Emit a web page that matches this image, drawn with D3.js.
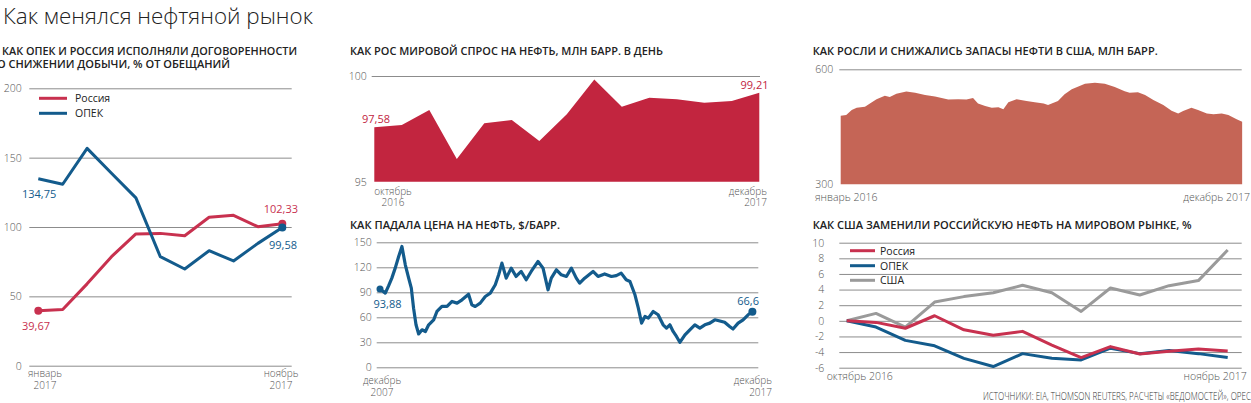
<!DOCTYPE html>
<html><head><meta charset="utf-8">
<script src="https://cdn.jsdelivr.net/npm/d3@7"></script>
<style>
body{margin:0;background:#fff;}
svg{display:block;font-family:"Open Sans",sans-serif;}
</style></head><body>
<svg id="c" width="1251" height="403"></svg>
<script>
// ---------- DATA ----------
const complianceMonths = ["2017-01","2017-02","2017-03","2017-04","2017-05","2017-06","2017-07","2017-08","2017-09","2017-10","2017-11"];
const complianceRussia = [39.67,40.5,59,78.6,95,95.4,93.7,107,108.4,100.2,102.33];
const complianceOpec   = [134.75,130.8,156.7,138.7,121,78.6,69.7,82.9,75.5,88.2,99.58];
const complianceTicks  = [0,50,100,150,200];

const demandMonths = ["2016-10","2016-11","2016-12","2017-01","2017-02","2017-03","2017-04","2017-05","2017-06","2017-07","2017-08","2017-09","2017-10","2017-11","2017-12"];
const demandValues = [97.58,97.68,98.39,96.07,97.76,97.92,96.92,98.19,99.84,98.55,98.97,98.9,98.74,98.82,99.21];
const demandTicks  = [95,100];

const priceDates = ["2007-12-01","2008-01-22","2008-02-24","2008-03-26","2008-04-28","2008-06-01","2008-07-03","2008-08-05","2008-09-07","2008-10-03","2008-10-25","2008-11-18","2008-12-14","2009-01-16","2009-02-18","2009-03-22","2009-05-10","2009-06-11","2009-07-30","2009-09-18","2009-11-06","2009-12-25","2010-02-12","2010-04-17","2010-05-19","2010-06-21","2010-08-09","2010-09-28","2010-11-16","2011-01-04","2011-02-06","2011-03-10","2011-04-21","2011-06-09","2011-07-27","2011-09-15","2011-11-03","2011-12-22","2012-02-27","2012-04-16","2012-06-04","2012-07-06","2012-08-25","2012-10-12","2012-12-01","2013-01-19","2013-03-08","2013-04-10","2013-05-29","2013-08-19","2013-10-07","2013-12-11","2014-02-15","2014-04-04","2014-05-22","2014-07-10","2014-08-16","2014-10-04","2014-11-06","2014-12-08","2015-01-10","2015-02-12","2015-04-01","2015-05-19","2015-07-07","2015-08-09","2015-09-11","2015-10-13","2015-11-15","2015-12-18","2016-02-06","2016-03-25","2016-05-13","2016-07-01","2016-08-19","2016-10-07","2016-11-25","2017-01-13","2017-03-01","2017-04-19","2017-05-22","2017-07-11","2017-08-29","2017-10-17","2017-11-28"];
const priceValues = [93.88,89,98,107,119,133,145,123,107,95,71,51,40,45,43,51,57,67,73,73,79,77,81,87.6,75,73,77,85,89,99,111,125,107,119,109,115,105,115,127,119,93,107,117,111,109,119,107,101,107,115,109,112,109,110,113,105,103,87,71,53,61,59,67,63,51,47,51,43,37,30,39,45,51,47,51,53,57,55.6,54,49,46,53,57,63,66.6];
const priceTicks = [0,30,60,90,120,150];

const stockDates = ["2016-01-01","2016-01-11","2016-01-21","2016-01-30","2016-02-14","2016-02-23","2016-03-06","2016-03-21","2016-03-30","2016-04-11","2016-04-29","2016-05-15","2016-06-02","2016-06-20","2016-07-14","2016-08-01","2016-08-16","2016-08-28","2016-09-06","2016-09-19","2016-10-01","2016-10-13","2016-10-22","2016-10-31","2016-11-15","2016-12-03","2016-12-18","2017-01-03","2017-01-11","2017-01-29","2017-02-10","2017-02-23","2017-03-07","2017-03-19","2017-04-06","2017-04-24","2017-05-12","2017-05-30","2017-06-08","2017-06-23","2017-07-06","2017-07-21","2017-08-08","2017-08-23","2017-09-04","2017-09-13","2017-09-28","2017-10-10","2017-10-26","2017-11-07","2017-11-22","2017-12-04","2017-12-19","2017-12-29"];
const stockValues = [479,481,494,500,502,511,522,531,528,536,542,539,533,529,521,522,521,525,511,504,500,501,496,514,522,517,514,511,507,517,535,548,555,562,565,562,554,543,539,540,533,520,507,492,485,491,500,494,485,483,485,481,470,463];
const stockTicks = [300,600];

const shareMonths = ["2016-10","2016-11","2016-12","2017-01","2017-02","2017-03","2017-04","2017-05","2017-06","2017-07","2017-08","2017-09","2017-10","2017-11"];
const shareRussia = [0,-0.2,-0.95,0.65,-1.15,-1.85,-1.35,-3.1,-4.7,-3.3,-4.25,-3.9,-3.6,-3.85];
const shareOpec   = [0,-0.8,-2.5,-3.2,-4.8,-5.85,-4.2,-4.8,-5.0,-3.5,-4.2,-3.8,-4.2,-4.7];
const shareUsa    = [0,0.95,-0.8,2.4,3.1,3.6,4.55,3.6,1.2,4.2,3.3,4.5,5.15,9.06];
const shareTicks  = [-6,-4,-2,0,2,4,6,8,10];

// ---------- STYLE ----------
const FONT = '"Open Sans", sans-serif';
const RED = "#c8314f", BLUE = "#135b8c", GRAY = "#9a9a9a";
const DEMAND = "#c2253f", STOCK = "#c56556";
const svg = d3.select("#c");
const parse = d3.timeParse("%Y-%m-%d");

function label(x, y, str, o = {}) {
  const t = svg.append("text").attr("x", x).attr("y", y).text(str)
    .attr("font-family", FONT)
    .attr("font-size", o.size || 11).attr("fill", o.fill || "#222")
    .attr("font-weight", o.weight || 400).attr("text-anchor", o.anchor || "start");
  if (o.len) t.attr("textLength", o.len).attr("lengthAdjust", "spacingAndGlyphs");
  return t;
}
function yGrid(scale, ticks, x0, x1, pad, hide) {
  const g = svg.append("g").attr("transform", `translate(${x0},0)`)
    .call(d3.axisLeft(scale).tickValues(ticks).tickSize(-(x1 - x0)).tickPadding(pad).tickFormat(d => String(d)));
  g.attr("font-family", FONT);
  g.select(".domain").remove();
  g.selectAll(".tick line").attr("stroke", "#8c8c8c").attr("stroke-width", 1)
    .attr("stroke-opacity", d => (hide && hide.includes(d)) ? 0 : 1);
  g.selectAll(".tick text").attr("fill", "#555").attr("font-size", 10.5).attr("font-weight", 300);
  return g;
}
const AX = {size: 10, weight: 300, fill: "#555"};

// ---------- MAIN TITLE ----------
label(3, 24, "Как менялся нефтяной рынок", {size: 22.5, weight: 300, len: 310, fill: "#222"});

// ---------- PANEL 1 ----------
{
  const x = d3.scalePoint().domain(complianceMonths).range([38.3, 282.3]);
  const y = d3.scaleLinear().domain([0, 200]).range([365.7, 88.3]);
  label(2, 55, "КАК ОПЕК И РОССИЯ ИСПОЛНЯЛИ ДОГОВОРЕННОСТИ", {size: 11.3, weight: 600, len: 295});
  label(-3, 67.5, "О СНИЖЕНИИ ДОБЫЧИ, % ОТ ОБЕЩАНИЙ", {size: 11.3, weight: 600, len: 233});
  yGrid(y, complianceTicks, 29.3, 291.7, 7.5);
  const line = d3.line().x((d, i) => x(complianceMonths[i])).y(d => y(d));
  svg.append("path").datum(complianceRussia).attr("d", line).attr("fill", "none")
    .attr("stroke", RED).attr("stroke-width", 3).attr("stroke-linejoin", "round");
  svg.append("path").datum(complianceOpec).attr("d", line).attr("fill", "none")
    .attr("stroke", BLUE).attr("stroke-width", 3).attr("stroke-linejoin", "round");
  const last = complianceMonths.length - 1;
  svg.append("circle").attr("cx", x(complianceMonths[0])).attr("cy", y(complianceRussia[0])).attr("r", 4).attr("fill", RED);
  svg.append("circle").attr("cx", x(complianceMonths[last])).attr("cy", y(complianceRussia[last])).attr("r", 4).attr("fill", RED);
  svg.append("circle").attr("cx", x(complianceMonths[last])).attr("cy", y(complianceOpec[last])).attr("r", 4).attr("fill", BLUE);
  label(22, 198, "134,75", {size: 11, fill: BLUE, weight: 500});
  label(22, 330, "39,67", {size: 11, fill: RED, weight: 500});
  label(298, 213, "102,33", {size: 11, fill: RED, weight: 500, anchor: "end"});
  label(297, 249, "99,58", {size: 11, fill: BLUE, weight: 500, anchor: "end"});
  // legend
  svg.append("line").attr("x1", 39).attr("x2", 67).attr("y1", 98.3).attr("y2", 98.3).attr("stroke", RED).attr("stroke-width", 3);
  svg.append("line").attr("x1", 39).attr("x2", 67).attr("y1", 113.3).attr("y2", 113.3).attr("stroke", BLUE).attr("stroke-width", 3);
  label(75, 102, "Россия", {size: 10.5, weight: 500});
  label(75, 117, "ОПЕК", {size: 10.5, weight: 500});
  label(45, 377, "январь", {...AX, anchor: "middle"});
  label(45, 389, "2017", {...AX, anchor: "middle"});
  label(281, 377, "ноябрь", {...AX, anchor: "middle"});
  label(281, 389, "2017", {...AX, anchor: "middle"});
}

// ---------- PANEL 2 ----------
{
  const x = d3.scalePoint().domain(demandMonths).range([374.3, 759.3]);
  const y = d3.scaleLinear().domain([95, 100]).range([181.7, 76]);
  label(350, 54.5, "КАК РОС МИРОВОЙ СПРОС НА НЕФТЬ, МЛН БАРР. В ДЕНЬ", {size: 11.3, weight: 600, len: 313});
  yGrid(y, demandTicks, 371.7, 760, 5, [95]);
  const area = d3.area().x((d, i) => x(demandMonths[i])).y0(y(95)).y1(d => y(d));
  svg.append("path").datum(demandValues).attr("d", area).attr("fill", DEMAND);
  label(362, 123, "97,58", {size: 11, fill: DEMAND, weight: 500});
  label(768.5, 89, "99,21", {size: 11, fill: DEMAND, weight: 500, anchor: "end"});
  label(393, 194.5, "октябрь", {...AX, anchor: "middle"});
  label(393, 206, "2016", {...AX, anchor: "middle"});
  label(767, 194.5, "декабрь", {...AX, anchor: "end"});
  label(767, 206, "2017", {...AX, anchor: "end"});
}

// ---------- PANEL 3 ----------
{
  const dates = priceDates.map(parse);
  const x = d3.scaleTime().domain([parse("2007-12-01"), parse("2017-12-01")]).range([380, 752.7]);
  const y = d3.scaleLinear().domain([0, 150]).range([367.3, 242.3]);
  label(350, 228.5, "КАК ПАДАЛА ЦЕНА НА НЕФТЬ, $/БАРР.", {size: 11.3, weight: 600, len: 210});
  yGrid(y, priceTicks, 376.7, 758.3, 5);
  const line = d3.line().x((d, i) => x(dates[i])).y(d => y(d));
  svg.append("path").datum(priceValues).attr("d", line).attr("fill", "none")
    .attr("stroke", BLUE).attr("stroke-width", 3.2).attr("stroke-linejoin", "round");
  const n = priceValues.length - 1;
  svg.append("circle").attr("cx", x(dates[0])).attr("cy", y(priceValues[0])).attr("r", 3.5).attr("fill", BLUE);
  svg.append("circle").attr("cx", x(dates[n])).attr("cy", y(priceValues[n])).attr("r", 4).attr("fill", BLUE);
  label(373.5, 308, "93,88", {size: 11, fill: BLUE, weight: 500});
  label(759, 304.5, "66,6", {size: 11, fill: BLUE, weight: 500, anchor: "end"});
  label(382, 384, "декабрь", {...AX, anchor: "middle"});
  label(382, 396, "2007", {...AX, anchor: "middle"});
  label(772, 384, "декабрь", {...AX, anchor: "end"});
  label(772, 396, "2017", {...AX, anchor: "end"});
}

// ---------- PANEL 4 ----------
{
  const dates = stockDates.map(parse);
  const x = d3.scaleTime().domain([parse("2016-01-01"), parse("2017-12-30")]).range([840.7, 1242.7]);
  const y = d3.scaleLinear().domain([300, 600]).range([184.3, 69.3]);
  label(812.7, 55, "КАК РОСЛИ И СНИЖАЛИСЬ ЗАПАСЫ НЕФТИ В США, МЛН БАРР.", {size: 11.3, weight: 600, len: 345});
  yGrid(y, stockTicks, 839.3, 1241.7, 6, [300]);
  const area = d3.area().x((d, i) => x(dates[i])).y0(y(300)).y1(d => y(d));
  svg.append("path").datum(stockValues).attr("d", area).attr("fill", STOCK);
  label(815, 201, "январь 2016", {...AX, size: 10.5});
  label(1250, 201, "декабрь 2017", {...AX, size: 10.5, anchor: "end"});
}

// ---------- PANEL 5 ----------
{
  const x = d3.scalePoint().domain(shareMonths).range([846.7, 1227.7]);
  const y = d3.scaleLinear().domain([-6, 10]).range([367.7, 242.7]);
  label(812.7, 228.5, "КАК США ЗАМЕНИЛИ РОССИЙСКУЮ НЕФТЬ НА МИРОВОМ РЫНКЕ, %", {size: 11.3, weight: 600, len: 379});
  yGrid(y, shareTicks, 839.3, 1241.7, 15);
  const line = d3.line().x((d, i) => x(shareMonths[i])).y(d => y(d));
  [[shareUsa, GRAY], [shareOpec, BLUE], [shareRussia, RED]].forEach(([s, c]) => {
    svg.append("path").datum(s).attr("d", line).attr("fill", "none")
      .attr("stroke", c).attr("stroke-width", 3).attr("stroke-linejoin", "round");
  });
  const leg = [["Россия", RED, 250.7], ["ОПЕК", BLUE, 265.7], ["США", GRAY, 280.3]];
  leg.forEach(([t, c, yy]) => {
    svg.append("line").attr("x1", 850).attr("x2", 875).attr("y1", yy).attr("y2", yy).attr("stroke", c).attr("stroke-width", 3);
    label(880, yy + 4, t, {size: 10.5, weight: 500});
  });
  label(826.7, 379.5, "октябрь 2016", {...AX, size: 10.5});
  label(1246.7, 379.5, "ноябрь 2017", {...AX, size: 10.5, anchor: "end"});
  label(1251, 399.5, "ИСТОЧНИКИ: EIA, THOMSON REUTERS, РАСЧЕТЫ «ВЕДОМОСТЕЙ», OPEC", {size: 10.5, weight: 300, fill: "#333", anchor: "end", len: 268});
}
</script>
</body></html>
